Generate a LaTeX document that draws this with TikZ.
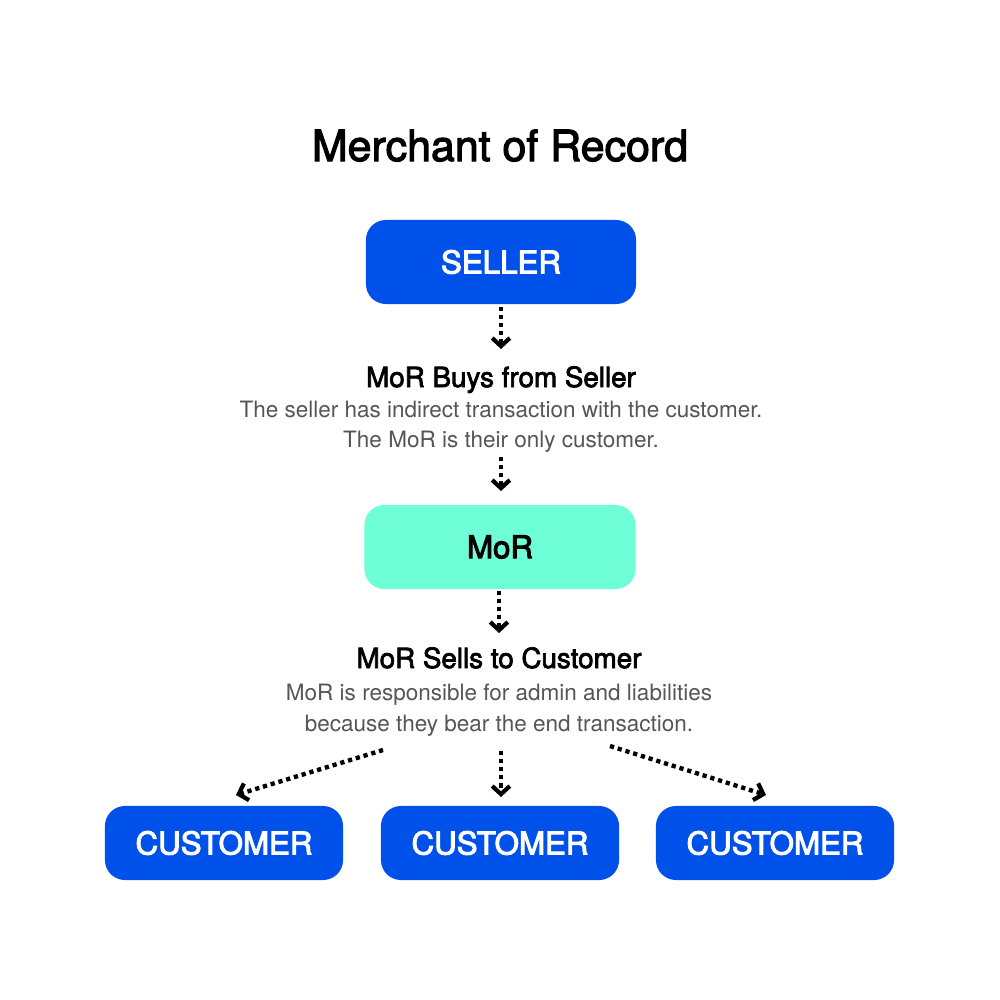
\documentclass[tikz,border=0pt]{standalone}
\usepackage{fontspec}
\setmainfont{TeX Gyre Heros}
\newfontfamily\medfont[FakeBold=2.6]{TeX Gyre Heros}
\newfontfamily\lblfont[FakeBold=3.2]{TeX Gyre Heros}
\usetikzlibrary{arrows.meta}
\definecolor{sellerblue}{HTML}{0050EA}
\definecolor{morgreen}{HTML}{6FFFD6}
\definecolor{notegray}{HTML}{555555}
\tikzset{
    box/.style={rectangle, rounded corners=0.2cm, inner sep=0pt,
        font=\lblfont\fontsize{8.9}{10}\selectfont},
    bluebox/.style={box, fill=sellerblue, text=white},
    greenbox/.style={box, fill=morgreen, text=black},
    custbox/.style={bluebox, minimum width=2.38cm, minimum height=0.74cm},
    heading/.style={anchor=base, font=\medfont\fontsize{7.9}{9}\selectfont},
    note/.style={anchor=base, text=notegray, font=\fontsize{6.4}{8}\selectfont},
    flow/.style={line width=1.25pt, dash pattern=on 1.2pt off 1.1pt,
        -{Straight Barb[length=2.3pt,width=5pt,line width=1.2pt]}}
}
\begin{document}
\begin{tikzpicture}[x=0.01cm, y=-0.01cm]
            \useasboundingbox[fill=white] (0,0) rectangle (1000,1000);
            \node[anchor=base, font=\medfont\fontsize{12.2}{14}\selectfont](T) at (500,161) {Merchant of Record};
            \node[bluebox, minimum width=2.7cm, minimum height=0.84cm](S) at (501,262) {SELLER};
            \node[heading](H1) at (501,387) {MoR Buys from Seller};
            \node[note](N1) at (501,417) {The seller has indirect transaction with the customer.};
            \node[note](N2) at (501,447) {The MoR is their only customer.};
            \node[greenbox, minimum width=2.71cm, minimum height=0.84cm](M) at (500,547) {MoR};
            \node[heading](H2) at (499,668) {MoR Sells to Customer};
            \node[note](N3) at (499,700) {MoR is responsible for admin and liabilities};
            \node[note](N4) at (499,731) {because they bear the end transaction.};
            \node[custbox](C1) at (224,843) {CUSTOMER};
            \node[custbox](C2) at (500,843) {CUSTOMER};
            \node[custbox](C3) at (775,843) {CUSTOMER};
            \coordinate (a1) at (501,307);
            \coordinate (b1) at (501,349);
            \coordinate (a2) at (501,457);
            \coordinate (b2) at (501,491);
            \coordinate (a3) at (499,591);
            \coordinate (b3) at (499,633);
            \coordinate (l1) at (383,750);
            \coordinate (l2) at (236,795);
            \coordinate (m1) at (501,751);
            \coordinate (m2) at (501,797);
            \coordinate (r1) at (610,746);
            \coordinate (r2) at (766,795);
            \path
                (a1) edge [flow] (b1)
                (a2) edge [flow] (b2)
                (a3) edge [flow] (b3)
                (l1) edge [flow] (l2)
                (m1) edge [flow] (m2)
                (r1) edge [flow] (r2)
                ;
\end{tikzpicture}
\end{document}
